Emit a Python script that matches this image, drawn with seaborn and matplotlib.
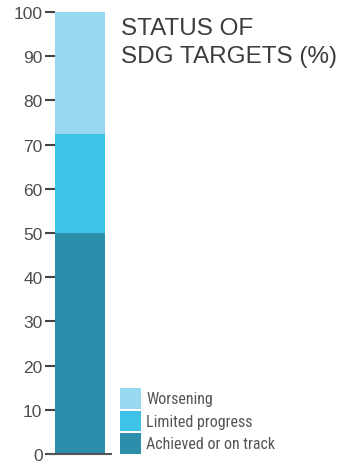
import matplotlib
matplotlib.use("Agg")
import matplotlib.pyplot as plt
import seaborn as sns
import pandas as pd
from matplotlib.patches import Rectangle
import logging
logging.getLogger("matplotlib.font_manager").setLevel(logging.ERROR)

categories = ["Achieved or on track", "Limited progress", "Worsening"]
values = [50.0, 22.5, 27.5]
colors = ["#2b8fab", "#3dc3e8", "#98d9f1"]
yticks = [0, 10, 20, 30, 40, 50, 60, 70, 80, 90, 100]
title = "STATUS OF\nSDG TARGETS (%)"

sns.set_theme(style="white")
plt.rcParams["font.family"] = ["Liberation Sans", "DejaVu Sans"]

W, H = 343, 464
fig = plt.figure(figsize=(W / 100, H / 100), dpi=100)
ax = fig.add_axes([55 / W, 9 / H, 56 / W, 442 / H])

cum = []
s = 0
for v in values:
    s += v
    cum.append(s)

for cat, c, col in reversed(list(zip(categories, cum, colors))):
    df = pd.DataFrame({"x": ["SDG"], "y": [c]})
    sns.barplot(data=df, x="x", y="y", color=col, width=1.0, ax=ax,
                saturation=1, edgecolor="none", linewidth=0)

ax.set_xlim(-0.5, 0.62)
ax.set_ylim(0, 100)
ax.set_yticks(yticks)
ax.set_yticklabels([str(t) for t in yticks], fontsize=12.5, color="#4d4d4d")
ax.set_xticks([])
ax.set_xlabel("")
ax.set_ylabel("")
for sp in ["top", "right", "left"]:
    ax.spines[sp].set_visible(False)
ax.spines["bottom"].set_color("#555555")
ax.spines["bottom"].set_linewidth(1.5)
ax.spines["bottom"].set_bounds(-0.64, 0.62)
ax.tick_params(axis="y", left=True, length=7, width=1.5, color="#444444", pad=2)
ax.set_facecolor("none")

fig.text(121 / W, 1 - 63 / H, title, ha="left", va="baseline", fontsize=17.5,
         color="#3d3d3d", linespacing=1.38, multialignment="left")

# legend (top to bottom: Worsening, Limited progress, Achieved)
leg_font = ["Roboto Condensed", "Liberation Sans Narrow", "Roboto"]
for i, (cat, col) in enumerate(zip(reversed(categories), reversed(colors))):
    top = 389 + i * 22.7
    fig.add_artist(Rectangle((120 / W, 1 - (top + 20.5) / H), 20.5 / W, 20.5 / H,
                             transform=fig.transFigure, facecolor=col,
                             edgecolor="none"))
    fig.text(146 / W, 1 - (top + 10.5) / H, cat, ha="left", va="center",
             fontsize=11.5, color="#555555", family=leg_font)

fig.savefig("out.png", dpi=100)
